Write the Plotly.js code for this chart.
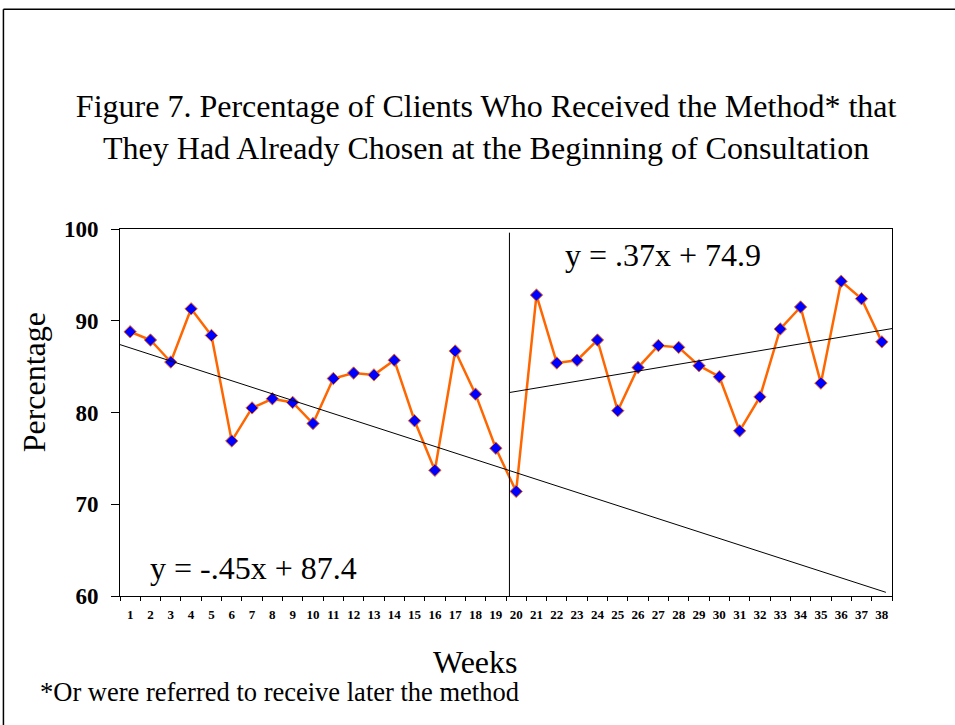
<!DOCTYPE html>
<html>
<head>
<meta charset="utf-8">
<script src="https://cdn.plot.ly/plotly-3.0.1.min.js"></script>
<style>html,body{margin:0;padding:0;background:#fff;}#chart{width:955px;height:725px;}</style>
</head>
<body>
<div id="chart"></div>
<script>
// Data
var weeks = [1,2,3,4,5,6,7,8,9,10,11,12,13,14,15,16,17,18,19,20,21,22,23,24,25,26,27,28,29,30,31,32,33,34,35,36,37,38];
var percentage = [88.8,87.9,85.5,91.3,88.4,76.9,80.5,81.5,81.1,78.8,83.7,84.3,84.1,85.7,79.1,73.7,86.7,82.0,76.1,71.4,
                  92.8,85.4,85.7,87.9,80.2,84.9,87.3,87.1,85.1,83.9,78.0,81.7,89.1,91.5,83.2,94.3,92.4,87.7];
// Trend line 1 (as drawn) endpoints
var trend1X = [0.5, 38.2];
var trend1Y = [87.4, 60.4];
// Trend line 2: y = .37x + 74.9
var trend2Slope = 0.37, trend2Intercept = 74.9;
var trend2X = [19.67, 38.5];
var trend2Y = trend2X.map(function(x){ return trend2Slope * x + trend2Intercept; });
var splitWeek = 19.67;
var yTicks = [60,70,80,90,100];
var eq1 = "y = -.45x + 87.4";
var eq2 = "y = .37x + 74.9";

var serif = "Liberation Serif";

var traces = [
  {x: weeks, y: percentage, type: 'scatter', mode: 'lines+markers',
   line: {color: '#FF6600', width: 2.5},
   marker: {symbol: 'diamond', size: 9.5, color: '#0000FF', line: {color: '#FF6600', width: 1}},
   hoverinfo: 'x+y'},
  {x: trend1X, y: trend1Y, type: 'scatter', mode: 'lines', line: {color: '#000', width: 1}, hoverinfo: 'skip'},
  {x: trend2X, y: trend2Y, type: 'scatter', mode: 'lines', line: {color: '#000', width: 1}, hoverinfo: 'skip'}
];

var layout = {
  width: 955, height: 725,
  margin: {l: 120, r: 63, t: 229, b: 129},
  paper_bgcolor: '#fff', plot_bgcolor: '#fff',
  showlegend: false,
  font: {family: serif, color: '#000'},
  title: {text: 'Figure 7. Percentage of Clients Who Received the Method* that<br>They Had Already Chosen at the Beginning of Consultation',
          font: {family: serif, size: 32, color: '#000'}, x: 0.509, xanchor: 'center', y: 0.838, yanchor: 'middle'},
  xaxis: {
    range: [0.5, 38.5], tickvals: weeks, ticktext: weeks.map(String), ticks: '',
    ticklabelstandoff: 6,
    tickfont: {family: serif, size: 13, color: '#000', weight: 'bold'},
    showline: true, linecolor: '#000', linewidth: 1, mirror: true, showgrid: false, zeroline: false,
    minor: {tick0: 0.5, dtick: 1, ticks: 'outside', ticklen: 4, tickcolor: '#000', tickwidth: 1, showgrid: false}
  },
  yaxis: {
    range: [60, 100], tickvals: yTicks, ticks: 'outside', ticklen: 8, tickcolor: '#000',
    ticklabelstandoff: 8,
    tickfont: {family: serif, size: 23, color: '#000', weight: 'bold'},
    showline: true, linecolor: '#000', linewidth: 1, mirror: true, showgrid: false, zeroline: false
  },
  shapes: [
    {type: 'line', xref: 'x', yref: 'y', x0: splitWeek, x1: splitWeek, y0: 60, y1: 99.6, line: {color: '#000', width: 1}},
    {type: 'line', xref: 'paper', yref: 'paper', x0: -0.151, x1: 1.1, y0: 1.599, y1: 1.599, line: {color: '#000', width: 1.5}},
    {type: 'line', xref: 'paper', yref: 'paper', x0: -0.151, x1: -0.151, y0: 1.599, y1: -0.4, line: {color: '#000', width: 1.5}}
  ],
  annotations: [
    {xref: 'x', yref: 'y', x: 1.88, y: 63.05, xanchor: 'left', yanchor: 'middle', text: eq1, showarrow: false,
     font: {family: serif, size: 32, color: '#000'}},
    {xref: 'x', yref: 'y', x: 22.3, y: 97.17, xanchor: 'left', yanchor: 'middle', text: eq2, showarrow: false,
     font: {family: serif, size: 32, color: '#000'}},
    {xref: 'paper', yref: 'paper', x: -0.111, y: 0.583, xanchor: 'center', yanchor: 'middle', textangle: -90,
     text: 'Percentage', showarrow: false, font: {family: serif, size: 32, color: '#000'}},
    {xref: 'paper', yref: 'paper', x: 0.46, y: -0.18, xanchor: 'center', yanchor: 'middle',
     text: 'Weeks', showarrow: false, font: {family: serif, size: 32, color: '#000'}},
    {xref: 'paper', yref: 'paper', x: -0.1065, y: -0.262, xanchor: 'left', yanchor: 'middle',
     text: '*Or were referred to receive later the method', showarrow: false,
     font: {family: serif, size: 26.5, color: '#000'}}
  ]
};

Plotly.newPlot('chart', traces, layout, {displayModeBar: false, staticPlot: true});
</script>
</body>
</html>
